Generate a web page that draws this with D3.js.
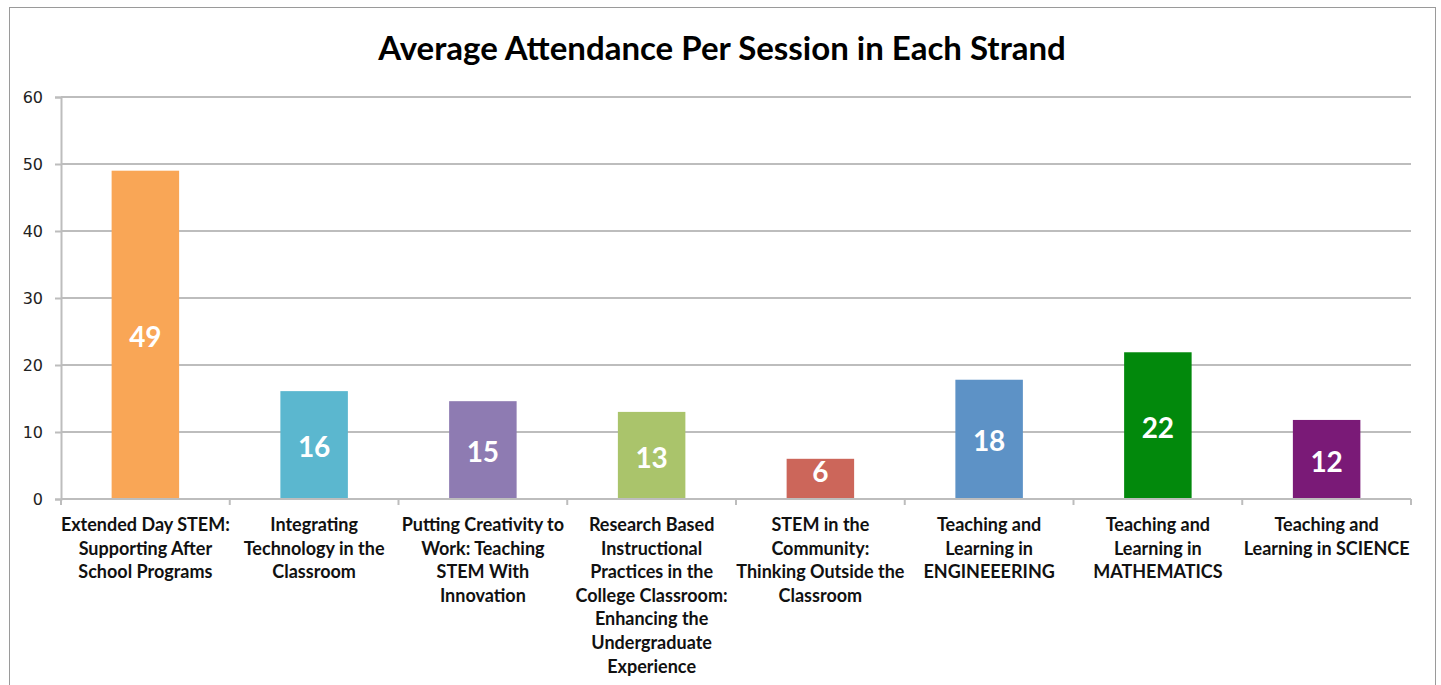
<!DOCTYPE html>
<html>
<head>
<meta charset="utf-8">
<script src="https://d3js.org/d3.v7.min.js"></script>
<style>
  html, body { margin: 0; padding: 0; background: #fff; }
  svg { display: block; }
</style>
</head>
<body>
<svg id="chart" width="1441" height="685"></svg>
<script>
const title = "Average Attendance Per Session in Each Strand";
const categories = [
  "Extended Day STEM:|Supporting After|School Programs",
  "Integrating|Technology in the|Classroom",
  "Putting Creativity to|Work: Teaching|STEM With|Innovation",
  "Research Based|Instructional|Practices in the|College Classroom:|Enhancing the|Undergraduate|Experience",
  "STEM in the|Community:|Thinking Outside the|Classroom",
  "Teaching and|Learning in|ENGINEEERING",
  "Teaching and|Learning in|MATHEMATICS",
  "Teaching and|Learning in SCIENCE"
];
const values = [49, 16.1, 14.6, 13, 6, 17.8, 21.9, 11.8];
const barColors = ["#F9A656", "#5BB7CF", "#8E7BB2", "#AAC46B", "#CC665A", "#5D92C6", "#02890C", "#7A1A77"];
const yTicks = [0, 10, 20, 30, 40, 50, 60];

const svg = d3.select("#chart");
const margin = { left: 61, right: 1411, top: 97, bottom: 499 };

// outer frame
svg.append("rect")
  .attr("x", 9.5).attr("y", 7.5)
  .attr("width", 1426).attr("height", 700)
  .attr("fill", "#fff").attr("stroke", "#9a9a9a").attr("stroke-width", 1);

const x = d3.scaleBand()
  .domain(d3.range(categories.length))
  .range([margin.left, margin.right])
  .paddingInner(0.6).paddingOuter(0.3);

const xEdge = d3.scaleLinear().domain([0, categories.length]).range([margin.left, margin.right]);

const y = d3.scaleLinear().domain([0, 60]).range([margin.bottom, margin.top]);

// gridlines
svg.append("g")
  .selectAll("line")
  .data(yTicks.filter(d => d > 0))
  .join("line")
  .attr("x1", margin.left).attr("x2", margin.right)
  .attr("y1", d => y(d)).attr("y2", d => y(d))
  .attr("stroke", "#bdbdbd").attr("stroke-width", 2);

// y axis
const yAxis = svg.append("g")
  .attr("transform", `translate(${margin.left},0)`)
  .call(d3.axisLeft(y).tickValues(yTicks).tickSize(6).tickPadding(12).tickFormat(d3.format("d")));
yAxis.select(".domain").attr("stroke", "#bdbdbd").attr("stroke-width", 2);
yAxis.selectAll(".tick line").attr("stroke", "#bdbdbd").attr("stroke-width", 2);
yAxis.selectAll(".tick text")
  .attr("font-family", "'DejaVu Sans', sans-serif")
  .attr("font-size", 16).attr("fill", "#222");

// bars
svg.append("g")
  .selectAll("rect")
  .data(values)
  .join("rect")
  .attr("x", (d, i) => x(i))
  .attr("width", x.bandwidth())
  .attr("y", d => y(d))
  .attr("height", d => y(0) - y(d))
  .attr("fill", (d, i) => barColors[i]);

// x axis baseline + ticks at category edges
svg.append("line")
  .attr("x1", margin.left).attr("x2", margin.right)
  .attr("y1", y(0)).attr("y2", y(0))
  .attr("stroke", "#bdbdbd").attr("stroke-width", 2);
svg.append("g")
  .selectAll("line")
  .data(d3.range(categories.length + 1))
  .join("line")
  .attr("x1", d => xEdge(d)).attr("x2", d => xEdge(d))
  .attr("y1", y(0)).attr("y2", y(0) + 6)
  .attr("stroke", "#bdbdbd").attr("stroke-width", 2);

// value labels
svg.append("g")
  .selectAll("text")
  .data(values)
  .join("text")
  .attr("x", (d, i) => x(i) + x.bandwidth() / 2)
  .attr("y", d => Math.min((y(d) + y(0)) / 2 + 2, y(0) - 27))
  .attr("dy", "0.36em")
  .attr("text-anchor", "middle")
  .attr("font-family", "Lato, 'Open Sans', sans-serif")
  .attr("font-weight", "bold")
  .attr("font-size", 28)
  .attr("fill", "#fff")
  .text(d => d3.format(".0f")(d));

// category labels
const cat = svg.append("g")
  .selectAll("text")
  .data(categories)
  .join("text")
  .attr("x", (d, i) => x(i) + x.bandwidth() / 2)
  .attr("y", 531)
  .attr("text-anchor", "middle")
  .attr("font-family", "Lato, 'Open Sans', sans-serif")
  .attr("font-weight", "bold")
  .attr("font-size", 18)
  .attr("fill", "#111");
cat.each(function(d, i) {
  const t = d3.select(this);
  d.split("|").forEach((line, k) => {
    t.append("tspan")
      .attr("x", x(i) + x.bandwidth() / 2)
      .attr("dy", k === 0 ? 0 : 23.6)
      .text(line);
  });
});

// title
svg.append("text")
  .attr("x", 722).attr("y", 60)
  .attr("text-anchor", "middle")
  .attr("font-family", "Lato, 'Open Sans', sans-serif")
  .attr("font-weight", "bold")
  .attr("font-size", 33)
  .attr("fill", "#000")
  .text(title);
</script>
</body>
</html>
